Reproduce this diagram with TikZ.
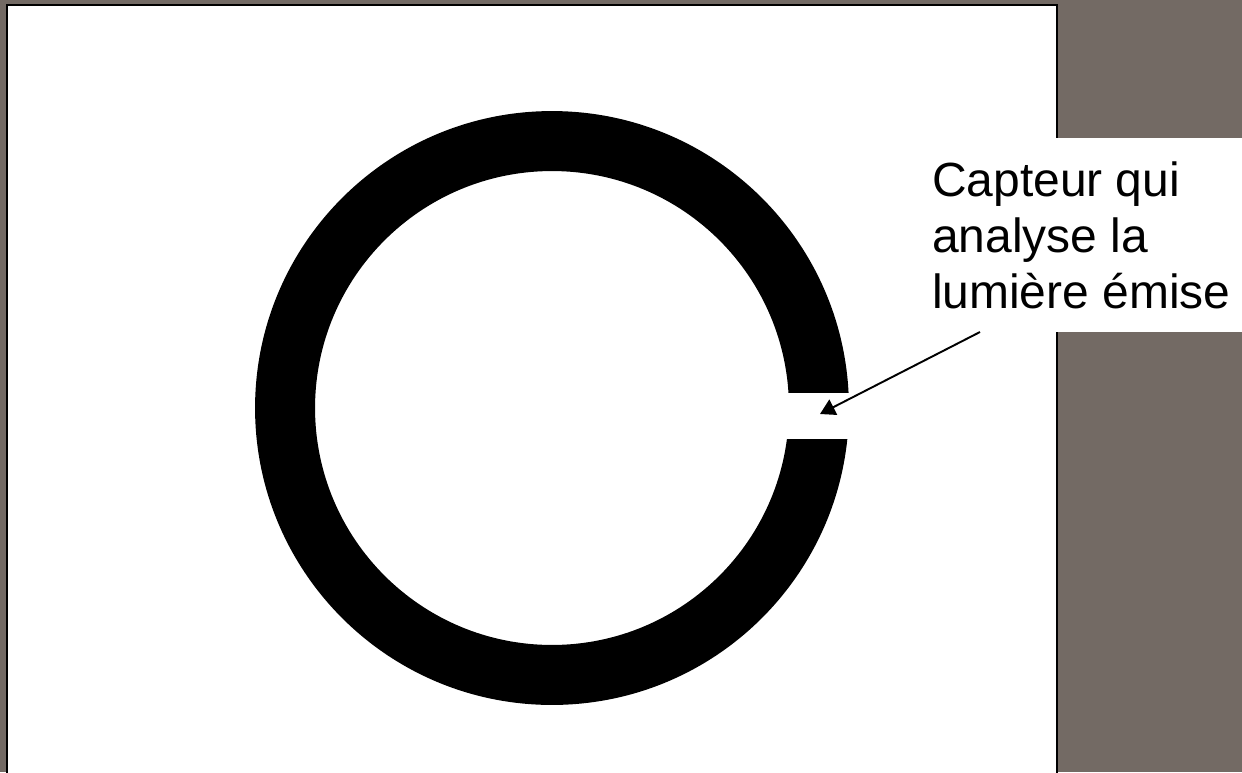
\documentclass[tikz,border=0pt]{standalone}
\usepackage{fontspec}
\setmainfont{Liberation Sans}
\usepackage{xcolor}
\definecolor{slide}{RGB}{115,106,100}
\usetikzlibrary{arrows.meta}

\begin{document}
\begin{tikzpicture}[x=0.02cm,y=-0.02cm,
  frame/.style={draw=black,line width=1.4pt,fill=white},
  ring/.style={fill=black,even odd rule},
  lbl/.style={fill=white,inner sep=0pt,minimum width=6.44cm,minimum height=3.88cm,align=left,font=\fontsize{27.3}{31.9}\selectfont},
  e/.style={-{Triangle[length=3mm,width=3.4mm]},line width=1.1pt}]
 \fill[slide] (0,0) rectangle (1242,772);
 \useasboundingbox (0,0) rectangle (1242,772);
 \draw[frame] (7,5) rectangle (1057,790);
 % ring with the sensor opening
 \fill[ring] (552,408) circle (5.94cm) (552,408) circle (4.74cm);
 \fill[white] (775,393) rectangle (860,439);
 \node[lbl,anchor=north west] (capteur) at (920,138) {Capteur qui\\analyse la\\lumière émise};
 \coordinate (tail) at (980,332);
 \coordinate (tip) at (820,414);
 \draw[e] (tail) -- (tip);
\end{tikzpicture}
\end{document}
